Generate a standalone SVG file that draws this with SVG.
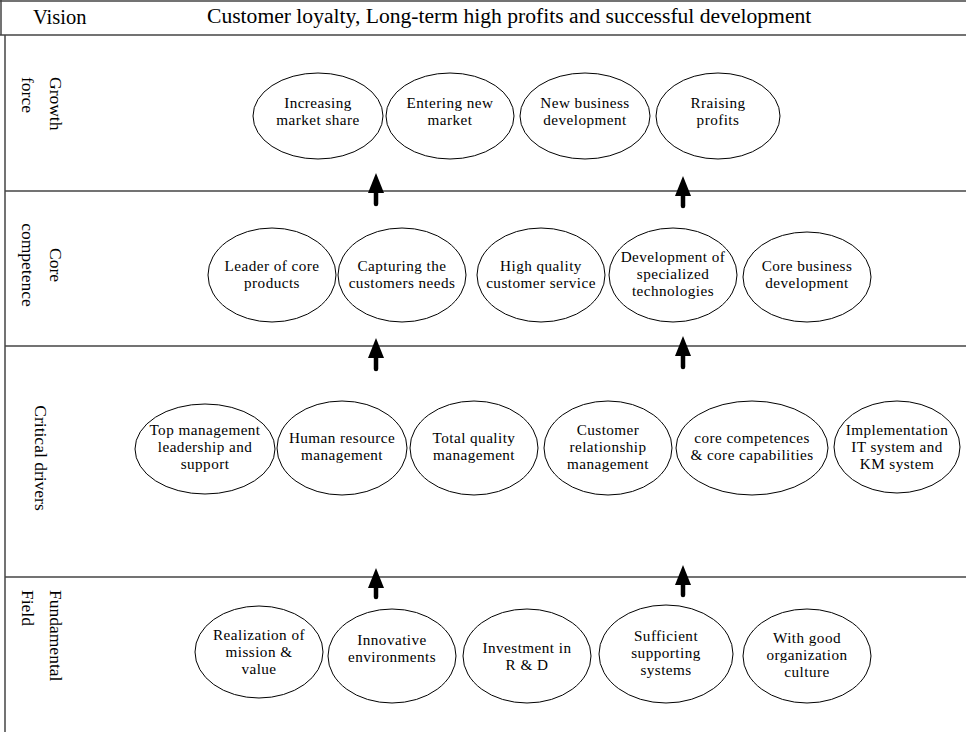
<svg xmlns="http://www.w3.org/2000/svg" width="966" height="732" viewBox="0 0 966 732">
<style>
.t{font-family:"Liberation Serif","Times New Roman",serif;font-size:15.2px;letter-spacing:0.45px;fill:#000;text-anchor:middle}
.lab{font-family:"Liberation Serif","Times New Roman",serif;font-size:17.5px;fill:#000}
.hd{font-family:"Liberation Serif","Times New Roman",serif;font-size:20.5px;fill:#000}
.e{fill:#fff;stroke:#000;stroke-width:1}
.grid{stroke:#444;stroke-width:1.5;fill:none}
.arr{stroke:#000;stroke-width:4.5;stroke-linecap:round;fill:none}
</style>
<defs>
<marker id="ah" viewBox="0 0 20 16" refX="0" refY="8" markerWidth="20" markerHeight="16" markerUnits="userSpaceOnUse" orient="auto">
<path d="M0,0 L20,8 L0,16 z" fill="#000"/>
</marker>
</defs>
<rect width="966" height="732" fill="#fff"/>
<g id="frame">
<line class="grid" x1="0" y1="1" x2="966" y2="1"/>
<line class="grid" x1="1" y1="0" x2="1" y2="35"/>
<line class="grid" x1="0" y1="35" x2="966" y2="35"/>
<line class="grid" x1="5" y1="35" x2="5" y2="732"/>
<line class="grid" x1="5" y1="191" x2="966" y2="191"/>
<line class="grid" x1="5" y1="346" x2="966" y2="346"/>
<line class="grid" x1="5" y1="577" x2="966" y2="577"/>
</g>
<g id="header">
<text class="hd" x="33" y="24">Vision</text>
<text class="hd" x="207" y="23" style="font-size:21.6px">Customer loyalty, Long-term high profits and successful development</text>
</g>
<g id="labels">
<text class="lab" transform="translate(50,77) rotate(90)">Growth</text>
<text class="lab" transform="translate(22,77) rotate(90)">force</text>
<text class="lab" text-anchor="middle" transform="translate(50,265) rotate(90)">Core</text>
<text class="lab" text-anchor="middle" transform="translate(22,265) rotate(90)">competence</text>
<text class="lab" text-anchor="middle" transform="translate(35,458) rotate(90)">Critical drivers</text>
<text class="lab" transform="translate(50,590) rotate(90)">Fundamental</text>
<text class="lab" transform="translate(22,590) rotate(90)">Field</text>
</g>
<g id="connectors">
<line class="arr" x1="376" y1="204" x2="376" y2="193" marker-end="url(#ah)"/>
<line class="arr" x1="683" y1="206" x2="683" y2="196" marker-end="url(#ah)"/>
<line class="arr" x1="376" y1="369" x2="376" y2="358" marker-end="url(#ah)"/>
<line class="arr" x1="683" y1="367" x2="683" y2="356" marker-end="url(#ah)"/>
<line class="arr" x1="376" y1="597" x2="376" y2="588" marker-end="url(#ah)"/>
<line class="arr" x1="683" y1="595" x2="683" y2="585" marker-end="url(#ah)"/>
</g>
<g id="g1"><ellipse class="e" cx="318" cy="116" rx="65" ry="43"/><text class="t" x="318" y="108">Increasing</text><text class="t" x="318" y="125">market share</text></g>
<g id="g2"><ellipse class="e" cx="450" cy="116" rx="64" ry="43"/><text class="t" x="450" y="108">Entering new</text><text class="t" x="450" y="125">market</text></g>
<g id="g3"><ellipse class="e" cx="585" cy="116" rx="65" ry="43"/><text class="t" x="585" y="108">New business</text><text class="t" x="585" y="125">development</text></g>
<g id="g4"><ellipse class="e" cx="718" cy="116" rx="62" ry="43"/><text class="t" x="718" y="108">Rraising</text><text class="t" x="718" y="125">profits</text></g>

<g id="c1"><ellipse class="e" cx="272" cy="275" rx="64" ry="47"/><text class="t" x="272" y="271">Leader of core</text><text class="t" x="272" y="288">products</text></g>
<g id="c2"><ellipse class="e" cx="402" cy="275" rx="64" ry="47"/><text class="t" x="402" y="271">Capturing the</text><text class="t" x="402" y="288">customers needs</text></g>
<g id="c3"><ellipse class="e" cx="541" cy="275" rx="64" ry="47"/><text class="t" x="541" y="271">High quality</text><text class="t" x="541" y="288">customer service</text></g>
<g id="c4"><ellipse class="e" cx="673" cy="275" rx="64" ry="47"/><text class="t" x="673" y="262">Development of</text><text class="t" x="673" y="279">specialized</text><text class="t" x="673" y="296">technologies</text></g>
<g id="c5"><ellipse class="e" cx="807" cy="277" rx="64" ry="45"/><text class="t" x="807" y="271">Core business</text><text class="t" x="807" y="288">development</text></g>

<g id="d1"><ellipse class="e" cx="205" cy="449" rx="70" ry="45"/><text class="t" x="205" y="435">Top management</text><text class="t" x="205" y="452">leadership and</text><text class="t" x="205" y="469">support</text></g>
<g id="d2"><ellipse class="e" cx="342" cy="448" rx="65" ry="47"/><text class="t" x="342" y="443">Human resource</text><text class="t" x="342" y="460">management</text></g>
<g id="d3"><ellipse class="e" cx="474" cy="448" rx="64" ry="47"/><text class="t" x="474" y="443">Total quality</text><text class="t" x="474" y="460">management</text></g>
<g id="d4"><ellipse class="e" cx="608" cy="448" rx="64" ry="47"/><text class="t" x="608" y="435">Customer</text><text class="t" x="608" y="452">relationship</text><text class="t" x="608" y="469">management</text></g>
<g id="d5"><ellipse class="e" cx="752" cy="448" rx="76" ry="47"/><text class="t" x="752" y="443">core competences</text><text class="t" x="752" y="460">&amp;  core capabilities</text></g>
<g id="d6"><ellipse class="e" cx="897" cy="447" rx="63" ry="46"/><text class="t" x="897" y="435">Implementation</text><text class="t" x="897" y="452">IT system and</text><text class="t" x="897" y="469">KM system</text></g>

<g id="f1"><ellipse class="e" cx="259" cy="652" rx="64" ry="46"/><text class="t" x="259" y="640">Realization of</text><text class="t" x="259" y="657">mission &amp;</text><text class="t" x="259" y="674">value</text></g>
<g id="f2"><ellipse class="e" cx="392" cy="656" rx="64" ry="47"/><text class="t" x="392" y="645">Innovative</text><text class="t" x="392" y="662">environments</text></g>
<g id="f3"><ellipse class="e" cx="527" cy="656" rx="64" ry="47"/><text class="t" x="527" y="653">Investment in</text><text class="t" x="527" y="670">R &amp; D</text></g>
<g id="f4"><ellipse class="e" cx="666" cy="654" rx="67" ry="49"/><text class="t" x="666" y="641">Sufficient</text><text class="t" x="666" y="658">supporting</text><text class="t" x="666" y="675">systems</text></g>
<g id="f5"><ellipse class="e" cx="807" cy="656" rx="64" ry="47"/><text class="t" x="807" y="643">With good</text><text class="t" x="807" y="660">organization</text><text class="t" x="807" y="677">culture</text></g>
</svg>
